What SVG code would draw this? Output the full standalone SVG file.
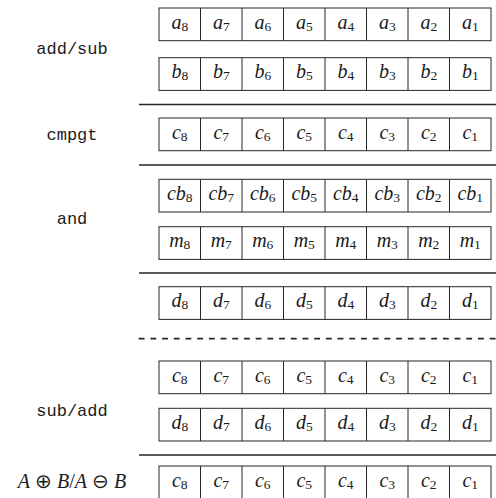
<svg xmlns="http://www.w3.org/2000/svg" width="496" height="498" viewBox="0 0 496 498">
<style>
.cell{fill:#fff;stroke:#262626;stroke-width:1}
.div{stroke:#262626;stroke-width:1}
.sep{stroke:#262626;stroke-width:1.7;fill:none}
.dash{stroke:#262626;stroke-width:1.7;stroke-dasharray:5.85 5.85;fill:none}
.v{font-family:"Liberation Serif",serif;font-style:italic;font-size:20px;fill:#1a1a1a}
.s{font-family:"Liberation Serif",serif;font-style:normal;font-size:13.5px}
.lbl{font-family:"Liberation Mono",monospace;font-size:17px;fill:#1a1a1a;text-anchor:middle}
.m{font-family:"Liberation Serif",serif;font-size:20px;fill:#1a1a1a;text-anchor:middle}
.mi{font-style:italic}
</style>
<defs>
<g id="grid">
<rect class="cell" x="159" y="0" width="332" height="32.7"/>
<path class="div" d="M200.5 0V32.7M242 0V32.7M283.5 0V32.7M325 0V32.7M366.5 0V32.7M408 0V32.7M449.5 0V32.7"/>
</g>
</defs>

<g id="labels">
<text class="lbl" x="72" y="53.5">add/sub</text>
<text class="lbl" x="72" y="140">cmpgt</text>
<text class="lbl" x="72" y="224">and</text>
<text class="lbl" x="72" y="416">sub/add</text>
<text class="m" x="72" y="487.5"><tspan class="mi">A</tspan> ⊕ <tspan class="mi">B</tspan>/<tspan class="mi">A</tspan> ⊖ <tspan class="mi">B</tspan></text>
</g>

<g id="connectors">
<line class="sep" x1="139" y1="104.5" x2="496" y2="104.5"/>
<line class="sep" x1="139" y1="165" x2="496" y2="165"/>
<line class="sep" x1="139" y1="273" x2="496" y2="273"/>
<line class="dash" x1="138.7" y1="338.7" x2="496" y2="338.7"/>
<line class="sep" x1="139" y1="455" x2="496" y2="455"/>
</g>

<g id="row-a" transform="translate(0,8)">
<use href="#grid"/>
<g class="v" text-anchor="middle">
<text x="179.75" y="20.5">a<tspan class="s" dy="2">8</tspan></text>
<text x="221.25" y="20.5">a<tspan class="s" dy="2">7</tspan></text>
<text x="262.75" y="20.5">a<tspan class="s" dy="2">6</tspan></text>
<text x="304.25" y="20.5">a<tspan class="s" dy="2">5</tspan></text>
<text x="345.75" y="20.5">a<tspan class="s" dy="2">4</tspan></text>
<text x="387.25" y="20.5">a<tspan class="s" dy="2">3</tspan></text>
<text x="428.75" y="20.5">a<tspan class="s" dy="2">2</tspan></text>
<text x="470.25" y="20.5">a<tspan class="s" dy="2">1</tspan></text>
</g>
</g>

<g id="row-b" transform="translate(0,57.7)">
<use href="#grid"/>
<g class="v" text-anchor="middle">
<text x="179.75" y="20.5">b<tspan class="s" dy="2">8</tspan></text>
<text x="221.25" y="20.5">b<tspan class="s" dy="2">7</tspan></text>
<text x="262.75" y="20.5">b<tspan class="s" dy="2">6</tspan></text>
<text x="304.25" y="20.5">b<tspan class="s" dy="2">5</tspan></text>
<text x="345.75" y="20.5">b<tspan class="s" dy="2">4</tspan></text>
<text x="387.25" y="20.5">b<tspan class="s" dy="2">3</tspan></text>
<text x="428.75" y="20.5">b<tspan class="s" dy="2">2</tspan></text>
<text x="470.25" y="20.5">b<tspan class="s" dy="2">1</tspan></text>
</g>
</g>

<g id="row-c1" transform="translate(0,118)">
<use href="#grid"/>
<g class="v" text-anchor="middle">
<text x="179.75" y="20.5">c<tspan class="s" dy="2">8</tspan></text>
<text x="221.25" y="20.5">c<tspan class="s" dy="2">7</tspan></text>
<text x="262.75" y="20.5">c<tspan class="s" dy="2">6</tspan></text>
<text x="304.25" y="20.5">c<tspan class="s" dy="2">5</tspan></text>
<text x="345.75" y="20.5">c<tspan class="s" dy="2">4</tspan></text>
<text x="387.25" y="20.5">c<tspan class="s" dy="2">3</tspan></text>
<text x="428.75" y="20.5">c<tspan class="s" dy="2">2</tspan></text>
<text x="470.25" y="20.5">c<tspan class="s" dy="2">1</tspan></text>
</g>
</g>

<g id="row-cb" transform="translate(0,179.3)">
<use href="#grid"/>
<g class="v" text-anchor="middle">
<text x="179.75" y="20.5">cb<tspan class="s" dy="2">8</tspan></text>
<text x="221.25" y="20.5">cb<tspan class="s" dy="2">7</tspan></text>
<text x="262.75" y="20.5">cb<tspan class="s" dy="2">6</tspan></text>
<text x="304.25" y="20.5">cb<tspan class="s" dy="2">5</tspan></text>
<text x="345.75" y="20.5">cb<tspan class="s" dy="2">4</tspan></text>
<text x="387.25" y="20.5">cb<tspan class="s" dy="2">3</tspan></text>
<text x="428.75" y="20.5">cb<tspan class="s" dy="2">2</tspan></text>
<text x="470.25" y="20.5">cb<tspan class="s" dy="2">1</tspan></text>
</g>
</g>

<g id="row-m" transform="translate(0,226.7)">
<use href="#grid"/>
<g class="v" text-anchor="middle">
<text x="179.75" y="20.5">m<tspan class="s" dy="2">8</tspan></text>
<text x="221.25" y="20.5">m<tspan class="s" dy="2">7</tspan></text>
<text x="262.75" y="20.5">m<tspan class="s" dy="2">6</tspan></text>
<text x="304.25" y="20.5">m<tspan class="s" dy="2">5</tspan></text>
<text x="345.75" y="20.5">m<tspan class="s" dy="2">4</tspan></text>
<text x="387.25" y="20.5">m<tspan class="s" dy="2">3</tspan></text>
<text x="428.75" y="20.5">m<tspan class="s" dy="2">2</tspan></text>
<text x="470.25" y="20.5">m<tspan class="s" dy="2">1</tspan></text>
</g>
</g>

<g id="row-d1" transform="translate(0,286.7)">
<use href="#grid"/>
<g class="v" text-anchor="middle">
<text x="179.75" y="20.5">d<tspan class="s" dy="2">8</tspan></text>
<text x="221.25" y="20.5">d<tspan class="s" dy="2">7</tspan></text>
<text x="262.75" y="20.5">d<tspan class="s" dy="2">6</tspan></text>
<text x="304.25" y="20.5">d<tspan class="s" dy="2">5</tspan></text>
<text x="345.75" y="20.5">d<tspan class="s" dy="2">4</tspan></text>
<text x="387.25" y="20.5">d<tspan class="s" dy="2">3</tspan></text>
<text x="428.75" y="20.5">d<tspan class="s" dy="2">2</tspan></text>
<text x="470.25" y="20.5">d<tspan class="s" dy="2">1</tspan></text>
</g>
</g>

<g id="row-c2" transform="translate(0,361)">
<use href="#grid"/>
<g class="v" text-anchor="middle">
<text x="179.75" y="20.5">c<tspan class="s" dy="2">8</tspan></text>
<text x="221.25" y="20.5">c<tspan class="s" dy="2">7</tspan></text>
<text x="262.75" y="20.5">c<tspan class="s" dy="2">6</tspan></text>
<text x="304.25" y="20.5">c<tspan class="s" dy="2">5</tspan></text>
<text x="345.75" y="20.5">c<tspan class="s" dy="2">4</tspan></text>
<text x="387.25" y="20.5">c<tspan class="s" dy="2">3</tspan></text>
<text x="428.75" y="20.5">c<tspan class="s" dy="2">2</tspan></text>
<text x="470.25" y="20.5">c<tspan class="s" dy="2">1</tspan></text>
</g>
</g>

<g id="row-d2" transform="translate(0,408.3)">
<use href="#grid"/>
<g class="v" text-anchor="middle">
<text x="179.75" y="20.5">d<tspan class="s" dy="2">8</tspan></text>
<text x="221.25" y="20.5">d<tspan class="s" dy="2">7</tspan></text>
<text x="262.75" y="20.5">d<tspan class="s" dy="2">6</tspan></text>
<text x="304.25" y="20.5">d<tspan class="s" dy="2">5</tspan></text>
<text x="345.75" y="20.5">d<tspan class="s" dy="2">4</tspan></text>
<text x="387.25" y="20.5">d<tspan class="s" dy="2">3</tspan></text>
<text x="428.75" y="20.5">d<tspan class="s" dy="2">2</tspan></text>
<text x="470.25" y="20.5">d<tspan class="s" dy="2">1</tspan></text>
</g>
</g>

<g id="row-c3" transform="translate(0,466)">
<use href="#grid"/>
<g class="v" text-anchor="middle">
<text x="179.75" y="20.5">c<tspan class="s" dy="2">8</tspan></text>
<text x="221.25" y="20.5">c<tspan class="s" dy="2">7</tspan></text>
<text x="262.75" y="20.5">c<tspan class="s" dy="2">6</tspan></text>
<text x="304.25" y="20.5">c<tspan class="s" dy="2">5</tspan></text>
<text x="345.75" y="20.5">c<tspan class="s" dy="2">4</tspan></text>
<text x="387.25" y="20.5">c<tspan class="s" dy="2">3</tspan></text>
<text x="428.75" y="20.5">c<tspan class="s" dy="2">2</tspan></text>
<text x="470.25" y="20.5">c<tspan class="s" dy="2">1</tspan></text>
</g>
</g>
</svg>
